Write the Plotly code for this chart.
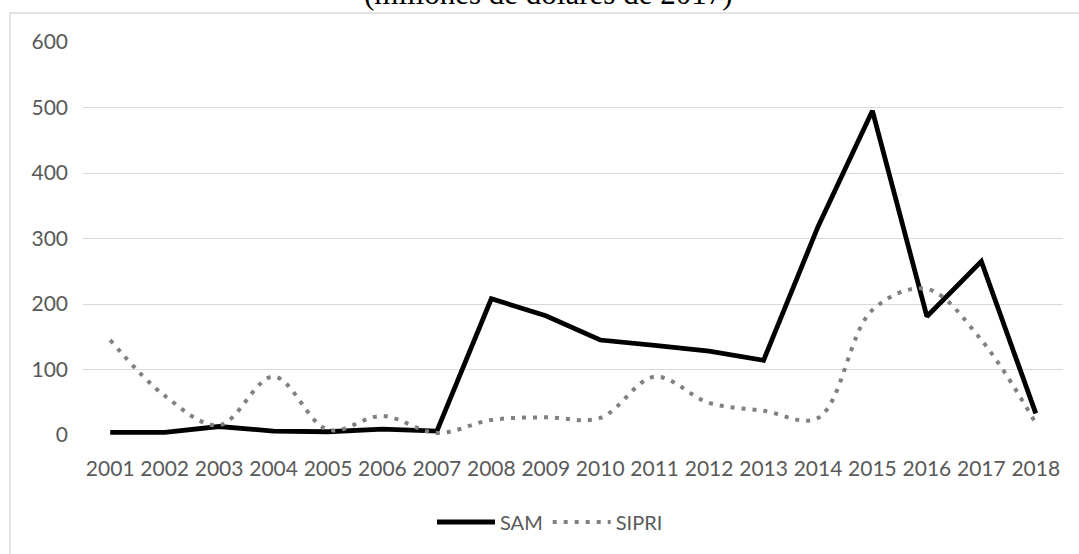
import plotly.graph_objects as go

years = ["2001", "2002", "2003", "2004", "2005", "2006", "2007", "2008", "2009",
         "2010", "2011", "2012", "2013", "2014", "2015", "2016", "2017", "2018"]
sam = [4, 4, 13, 6, 5, 9, 6, 208, 182, 145, 137, 128, 114, 318, 495, 181, 265, 33]
sipri = [145, 60, 15, 89, 8, 29, 3, 23, 27, 26, 89, 49, 37, 26, 191, 223, 145, 18]
y_ticks = [0, 100, 200, 300, 400, 500, 600]
title_text = "(millones de dólares de 2017)"

W, H = 1079, 554
L, R, T, B = 83, 16, 42, 119
pw, ph = W - L - R, H - T - B

def px(x):
    return (x - L) / pw

def py(y):
    return (H - B - y) / ph

fig = go.Figure()
fig.add_trace(go.Scatter(
    x=years, y=sam, name="SAM", mode="lines",
    line=dict(color="#000000", width=4.8),
))
fig.add_trace(go.Scatter(
    x=years, y=sipri, name="SIPRI", mode="lines",
    line=dict(color="#808080", width=4, dash="4px,7px", shape="spline", smoothing=1),
))

tick_font = dict(family="Lato, Open Sans, sans-serif", size=21, color="#595959")

fig.update_layout(
    width=W, height=H,
    margin=dict(l=L, r=R, t=T, b=B),
    paper_bgcolor="white", plot_bgcolor="white",
    showlegend=True,
    legend=dict(orientation="h", x=px(550), xanchor="center", y=py(522), yanchor="middle",
                font=dict(family="Lato, Open Sans, sans-serif", size=20, color="#595959"),
                itemwidth=58, bgcolor="rgba(0,0,0,0)"),
    xaxis=dict(type="category", range=[-0.5, 17.5], showgrid=False, zeroline=False,
               showline=False, ticks="", tickfont=tick_font, ticklabelstandoff=19,
               fixedrange=True),
    yaxis=dict(range=[0, 600], tickvals=y_ticks, showgrid=True, gridcolor="#d9d9d9",
               gridwidth=1.3, zeroline=False, showline=False, ticks="",
               tickfont=tick_font, ticklabelstandoff=14, fixedrange=True),
    annotations=[dict(text=title_text, xref="paper", yref="paper",
                      x=px(548), y=py(-7), xanchor="center", yanchor="middle",
                      showarrow=False,
                      font=dict(family="Liberation Serif, Times New Roman, serif",
                                size=31, color="#000000"))],
    shapes=[dict(type="rect", xref="paper", yref="paper",
                 x0=px(10), x1=px(1200), y0=py(700), y1=py(13),
                 line=dict(color="#d9d9d9", width=1.5), fillcolor="rgba(0,0,0,0)",
                 layer="below")],
)

fig.write_html("out.html",
               config={"displayModeBar": False},
               post_script="document.body.style.margin='0';document.body.style.overflow='hidden';")
